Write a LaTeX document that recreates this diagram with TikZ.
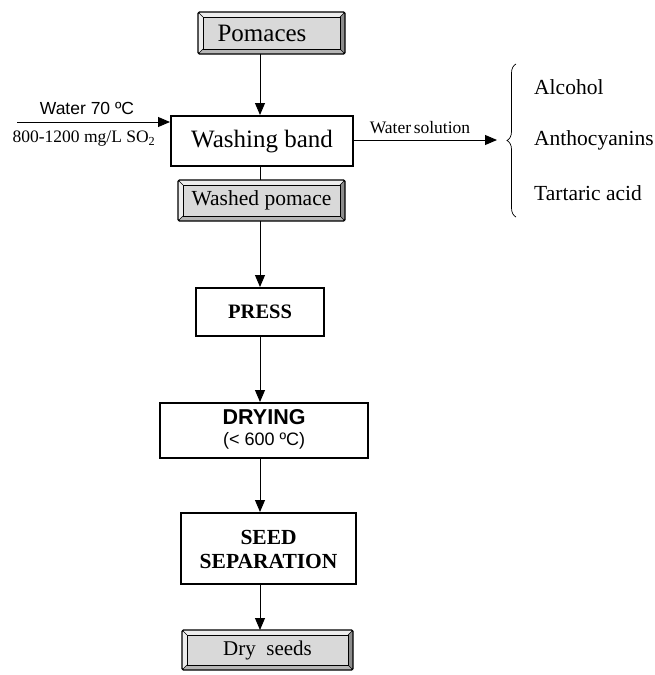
\documentclass[tikz,border=0pt]{standalone}
\usepackage{fontspec}
\setmainfont{Liberation Serif}
\setsansfont{Liberation Sans}
\usetikzlibrary{arrows.meta,decorations.pathreplacing}
\definecolor{bevfill}{HTML}{D9D9D9}
\definecolor{bevlight}{HTML}{EDEDED}
\definecolor{bevdark}{HTML}{8C8C8C}
\definecolor{bevmid}{HTML}{B5B5B5}
\newcommand\bevelbox[5]{% name, x1, y1, x2, y2 (y down)
  \fill[bevlight] (#2,-#3) rectangle (#4,-#5);
  \fill[bevdark] (#4,-#3) -- (#4,-#5) -- ({#4-5},{-#5+5}) -- ({#4-5},{-#3-5}) -- cycle;
  \fill[bevmid] (#2,-#5) -- (#4,-#5) -- ({#4-5},{-#5+5}) -- ({#2+5},{-#5+5}) -- cycle;
  \draw[line width=0.6pt,fill=bevfill] ({#2+5},{-#3-5}) rectangle ({#4-5},{-#5+5});
  \draw[line width=0.6pt] (#2,-#3) -- ({#2+5},{-#3-5}) (#4,-#3) -- ({#4-5},{-#3-5})
     (#2,-#5) -- ({#2+5},{-#5+5}) (#4,-#5) -- ({#4-5},{-#5+5});
  \draw[line width=1.2pt,rounded corners=1.5pt] (#2,-#3) rectangle (#4,-#5);
  \coordinate (#1-n) at ({(#2+#4)/2},-#3);
  \coordinate (#1-s) at ({(#2+#4)/2},-#5);
}
\tikzset{
  procbox/.style={draw,line width=2.2pt,fill=white,inner sep=0pt,anchor=north west},
  flow/.style={line width=0.9pt,-{Triangle[length=12pt,width=10pt]}},
}
\begin{document}
\begin{tikzpicture}[x=1pt,y=1pt]
\useasboundingbox (0,0) rectangle (655,-675);
% Pomaces
\bevelbox{pomb}{198}{12}{345}{54}
\node (pom) at (262,-33) {\fontsize{25}{28}\selectfont Pomaces};
% Washing band
\node[procbox,minimum width=182pt,minimum height=50pt] (wash) at (170,-115) {};
\node at (wash.center) {\fontsize{25}{28}\selectfont Washing band};
% Washed pomace
\bevelbox{wpb}{178}{180}{345}{221}
\node (wp) at (261.5,-200.5) {\fontsize{21.5}{24}\selectfont Washed pomace};
% PRESS
\node[procbox,minimum width=128pt,minimum height=48pt] (press) at (195,-287) {};
\node at (press.center) {\fontsize{20.5}{23}\selectfont\bfseries PRESS};
% DRYING
\node[procbox,minimum width=208pt,minimum height=55pt] (dry) at (159,-402) {};
\node at ([yshift=14pt]dry.center) {\fontsize{21.5}{24}\selectfont\sffamily\bfseries DRYING};
\node at ([yshift=-10pt]dry.center) {\fontsize{18}{20}\selectfont\sffamily (< 600 ºC)};
% SEED SEPARATION
\node[procbox,minimum width=175pt,minimum height=71pt] (seed) at (180,-512) {};
\node at ([yshift=11pt]seed.center) {\fontsize{21.5}{25}\selectfont\bfseries SEED};
\node at ([yshift=-13pt]seed.center) {\fontsize{21.5}{25}\selectfont\bfseries SEPARATION};
% Dry seeds
\bevelbox{dsb}{182}{630}{353}{670}
\node (ds) at (267.5,-650) {\fontsize{21}{24}\selectfont Dry\hspace{0.5em}seeds};
% Connectors
\draw[flow] (pomb-s -| 260,0) -- (wash.north -| 260,0);
\draw[line width=0.9pt] (wash.south -| 260,0) -- (wpb-n -| 260,0);
\draw[flow] (wpb-s -| 260,0) -- (press.north -| 260,0);
\draw[flow] (press.south -| 260,0) -- (dry.north -| 260,0);
\draw[flow] (dry.south -| 260,0) -- (seed.north -| 260,0);
\draw[flow] (seed.south -| 260,0) -- (dsb-n -| 260,0);
% Water inlet
\coordinate (win) at (17,-122);
\draw[flow] (win) -- (wash.west |- win);
\node at (87,-108) {\fontsize{17.5}{20}\selectfont\sffamily Water 70 ºC};
\node at (84,-139) {\fontsize{17.5}{20}\selectfont 800-1200 mg/L SO\textsubscript{2}};
% Water solution out
\coordinate (wout) at (497,-140);
\draw[flow] (wash.east |- wout) -- (wout);
\node at (420,-128) {\fontsize{17.5}{20}\selectfont Water\hspace{0.15em}solution};
% Brace
\coordinate (bt) at (516,-64);
\coordinate (bb) at (516,-217);
\draw[line width=0.7pt,decorate,decoration={brace,amplitude=9pt}] (bb) -- (bt);
\node[anchor=west,inner sep=0pt] (alc) at (534,-87) {\fontsize{21.5}{24}\selectfont Alcohol};
\node[anchor=west,inner sep=0pt] (ant) at (534,-140) {\fontsize{21.5}{24}\selectfont Anthocyanins};
\node[anchor=west,inner sep=0pt] (tar) at (534,-193) {\fontsize{21.5}{24}\selectfont Tartaric acid};
\end{tikzpicture}
\end{document}
